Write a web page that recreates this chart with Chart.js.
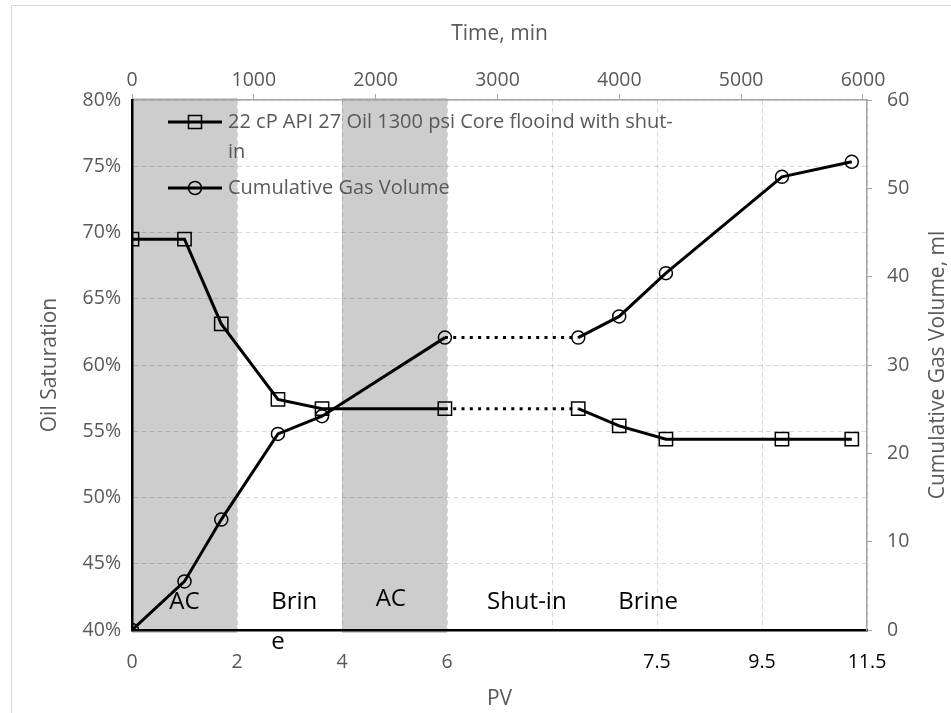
<!DOCTYPE html>
<html>
<head>
<meta charset="utf-8">
<script src="https://cdn.jsdelivr.net/npm/chart.js@4.4.1/dist/chart.umd.min.js"></script>
<style>
  html, body { margin: 0; padding: 0; background: #fff; }
  #wrap { width: 951px; height: 713px; position: relative; }
</style>
</head>
<body>
<div id="wrap"><canvas id="chart"></canvas></div>
<script>
/************ DATA ************/
const pv     = [0, 1.0, 1.7, 2.78, 3.62, 5.96, 8.5, 9.28, 10.17, 12.38, 13.71];
const oilSat = [69.5, 69.5, 63.1, 57.4, 56.7, 56.7, 56.7, 55.4, 54.4, 54.4, 54.4];
const gasVol = [0, 5.5, 12.5, 22.2, 24.2, 33.1, 33.1, 35.5, 40.4, 51.3, 53.0];

const seriesNames = ["22 cP API 27 Oil 1300 psi Core flooind with shut-in", "Cumulative Gas Volume"];
const legendLines = [["22 cP API 27 Oil 1300 psi Core flooind with shut-", "in"], ["Cumulative Gas Volume"]];

const pvTicks      = [0, 2, 4, 6, 8, 10, 12, 14];
const pvTickLabels = ["0", "2", "4", "6", "", "7.5", "9.5", "11.5"];
const timeTicks    = [0, 1000, 2000, 3000, 4000, 5000, 6000];
const timeMax      = 6033;

/* shaded AC injection bands, in PV */
const bandFrom = [0, 4];
const bandTo   = [2, 6];

/* stage labels inside the plot */
const stageText = ["AC", "Brin", "e", "AC", "Shut-in", "Brine"];
const stagePv   = [1.0, 3.09, 2.78, 4.93, 7.52, 9.83];
const stageSat  = [42.1, 42.1, 39.1, 42.3, 42.1, 42.1];

const SHUT_IN_SEG = 5; // segment 5 -> 6 drawn dotted

/************ STYLE ************/
const FONT = "'Open Sans', sans-serif";
const GREY = "#595959";
const GRID = "rgba(0,0,0,0.15)";
const AXIS_GREY = "#a6a6a6";

/************ PLUGIN: bands, labels, legend, right title ************/
const decor = {
  id: "decor",
  beforeDraw(chart) {
    const { ctx, chartArea: a, scales } = chart;
    ctx.save();
    ctx.fillStyle = "#fff";
    ctx.fillRect(0, 0, chart.width, chart.height);
    ctx.strokeStyle = "#d9d9d9";
    ctx.lineWidth = 1;
    ctx.strokeRect(11.5, 5.5, chart.width, chart.height);
    ctx.fillStyle = "#cdcdcd";
    bandFrom.forEach((b, i) => {
      const x1 = scales.x.getPixelForValue(b);
      const x2 = scales.x.getPixelForValue(bandTo[i]);
      ctx.fillRect(x1, a.top - 2, x2 - x1, a.bottom - a.top + 5);
    });
    ctx.restore();
  },
  afterDatasetsDraw(chart) {
    const { ctx, chartArea: a, scales } = chart;
    ctx.save();

    /* stage labels */
    ctx.font = "24px " + FONT;
    ctx.fillStyle = "#000";
    ctx.textAlign = "center";
    ctx.textBaseline = "middle";
    stageText.forEach((t, i) => {
      ctx.fillText(t, scales.x.getPixelForValue(stagePv[i]), scales.y.getPixelForValue(stageSat[i]));
    });

    /* legend */
    const lx = a.left + 36, ly = [a.top + 22, a.top + 88];
    chart.data.datasets.forEach((ds, i) => {
      const y = ly[i];
      ctx.strokeStyle = "#000";
      ctx.lineWidth = 3;
      ctx.beginPath();
      ctx.moveTo(lx, y);
      ctx.lineTo(lx + 54, y);
      ctx.stroke();
      ctx.lineWidth = 1.5;
      ctx.beginPath();
      if (ds.pointStyle === "rect") ctx.rect(lx + 27 - 6.5, y - 6.5, 13, 13);
      else ctx.arc(lx + 27, y, 6.5, 0, Math.PI * 2);
      ctx.stroke();
      ctx.font = "20px " + FONT;
      ctx.fillStyle = GREY;
      ctx.textAlign = "left";
      legendLines[i].forEach((line, k) => ctx.fillText(line, lx + 60, y + k * 30));
    });

    /* right axis title, reads bottom to top */
    ctx.translate(938, (a.top + a.bottom) / 2);
    ctx.rotate(-Math.PI / 2);
    ctx.font = "21px " + FONT;
    ctx.fillStyle = GREY;
    ctx.textAlign = "center";
    ctx.fillText("Cumulative Gas Volume, ml", 0, 0);
    ctx.restore();
  }
};

/************ CHART ************/
const dotted = c => c.p0DataIndex === SHUT_IN_SEG ? [3, 5.3] : undefined;

const chart = new Chart(document.getElementById("chart"), {
  type: "line",
  data: {
    datasets: [{
      label: seriesNames[0],
      data: pv.map((x, i) => ({ x: x, y: oilSat[i] })),
      xAxisID: "x",
      yAxisID: "y",
      borderColor: "#000",
      borderWidth: 3,
      pointStyle: "rect",
      pointRadius: 9.4,
      pointBorderWidth: 1.5,
      pointBorderColor: "#000",
      pointBackgroundColor: "rgba(0,0,0,0)",
      segment: { borderDash: dotted }
    }, {
      label: seriesNames[1],
      data: pv.map((x, i) => ({ x: x, y: gasVol[i] })),
      xAxisID: "x",
      yAxisID: "y2",
      borderColor: "#000",
      borderWidth: 3,
      pointStyle: "circle",
      pointRadius: 6.5,
      pointBorderWidth: 1.5,
      pointBorderColor: "#000",
      pointBackgroundColor: "rgba(0,0,0,0)",
      segment: { borderDash: dotted }
    }]
  },
  options: {
    responsive: true,
    maintainAspectRatio: false,
    animation: false,
    layout: { padding: 0 },
    plugins: { legend: { display: false }, tooltip: { enabled: false } },
    scales: {
      x: {
        type: "linear",
        position: "bottom",
        min: 0,
        max: 14,
        afterBuildTicks: s => { s.ticks = pvTicks.map(v => ({ value: v })); },
        afterFit: s => { s.height = 83; },
        ticks: {
          callback: (v, i) => pvTickLabels[i],
          color: c => c.index >= 5 ? "#000" : GREY,
          font: { family: FONT, size: 19.5 },
          padding: 21,
          maxRotation: 0
        },
        grid: { color: GRID, lineWidth: 1, drawTicks: false },
        border: { color: "#000", width: 2.5, dash: [5, 3] },
        title: { display: true, text: "PV", color: GREY, font: { family: FONT, size: 21 }, padding: { top: 0, bottom: 1 } }
      },
      x2: {
        type: "linear",
        position: "top",
        min: 0,
        max: timeMax,
        afterBuildTicks: s => { s.ticks = timeTicks.map(v => ({ value: v })); },
        afterFit: s => { s.height = 100; },
        ticks: {
          callback: v => String(v),
          color: GREY,
          font: { family: FONT, size: 19.5 },
          padding: 2,
          maxRotation: 0
        },
        grid: { drawOnChartArea: false, drawTicks: true, tickLength: 6, color: AXIS_GREY },
        border: { color: AXIS_GREY, width: 1.5 },
        title: { display: true, text: "Time, min", color: GREY, font: { family: FONT, size: 21 }, padding: { top: 21, bottom: 0 } }
      },
      y: {
        type: "linear",
        position: "left",
        min: 40,
        max: 80,
        afterFit: s => { s.width = 132; },
        ticks: {
          stepSize: 5,
          callback: v => v + "%",
          color: GREY,
          font: { family: FONT, size: 19.5 },
          padding: 11
        },
        grid: { color: GRID, lineWidth: 1, drawTicks: false },
        border: { color: "#000", width: 2.5, dash: [5, 3] },
        title: { display: true, text: "Oil Saturation", color: GREY, font: { family: FONT, size: 21 }, padding: { top: 37, bottom: 0 } }
      },
      y2: {
        type: "linear",
        position: "right",
        min: 0,
        max: 60,
        afterFit: s => { s.width = 84; },
        ticks: {
          stepSize: 10,
          color: GREY,
          font: { family: FONT, size: 19.5 },
          padding: 15
        },
        grid: { drawOnChartArea: false, drawTicks: true, tickLength: 5, color: AXIS_GREY },
        border: { color: AXIS_GREY, width: 1.5 }
      }
    }
  },
  plugins: [decor]
});
</script>
</body>
</html>
